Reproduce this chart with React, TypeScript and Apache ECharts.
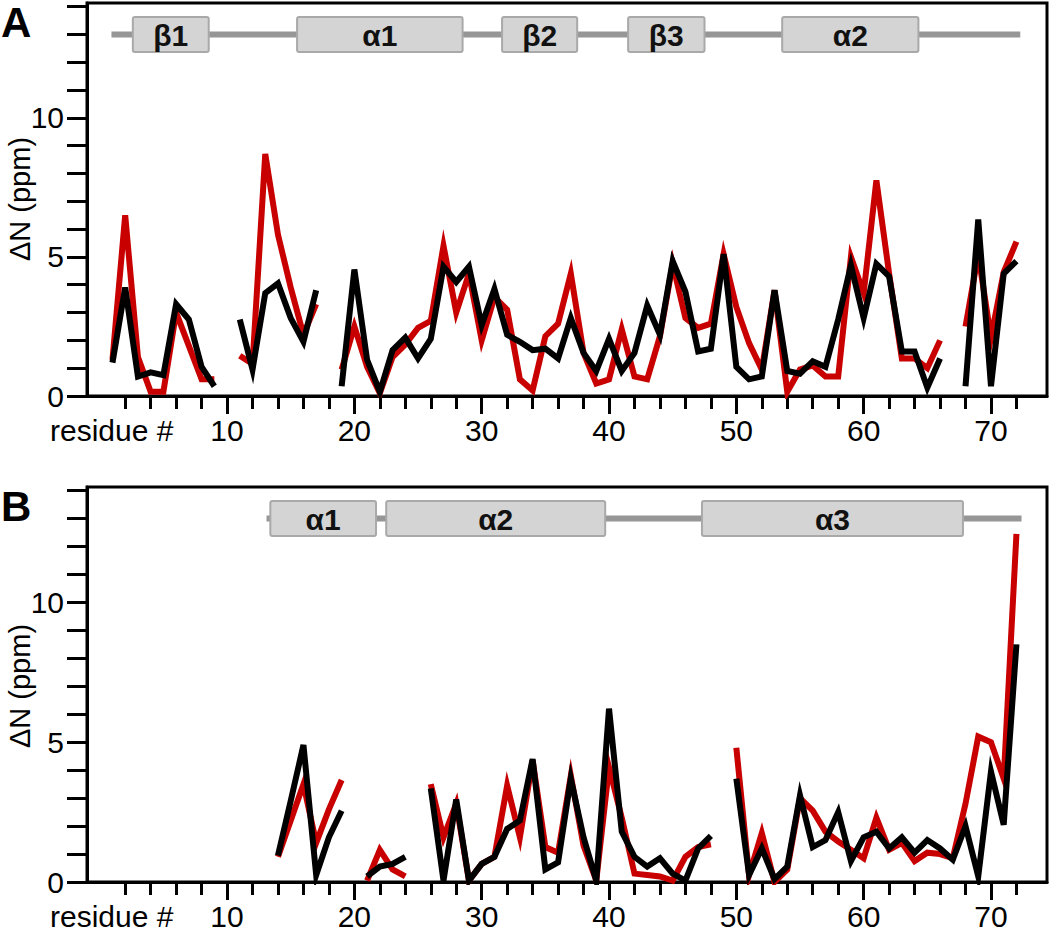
import React, { useEffect, useRef } from 'react';
import * as echarts from 'echarts';

// residue numbers 1..72
const residues = Array.from({ length: 72 }, (_, i) => i + 1);

// Panel A chemical shift perturbations (ppm), residue 1..72
const redA = [
  1.3, 6.5, 1.4, 0.15, 0.15, 3.0, 1.8, 0.6, 0.6, null,
  1.45, 1.15, 8.7, 5.8, 3.9, 2.2, 3.3, null, 0.95, 2.5,
  1.05, 0.1, 1.4, 1.85, 2.45, 2.7, 5.4, 3.0, 4.4, 2.0,
  3.55, 3.1, 0.6, 0.2, 2.15, 2.6, 4.4, 1.55, 0.45, 0.6,
  2.4, 0.7, 0.6, 2.15, 4.75, 2.8, 2.45, 2.6, 5.1, 3.2,
  1.9, 0.95, 3.8, 0.15, 0.95, 1.1, 0.7, 0.7, 5.0, 3.7,
  7.75, 4.4, 1.35, 1.35, 1.0, 2.0, null, 2.5, 5.1, 2.1,
  4.45, 5.55,
];
const blackA = [
  1.2, 3.9, 0.7, 0.85, 0.75, 3.3, 2.75, 1.05, 0.35, null,
  2.75, 0.95, 3.7, 4.05, 2.8, 1.95, 3.8, null, 0.35, 4.55,
  1.3, 0.15, 1.65, 2.1, 1.35, 2.05, 4.65, 4.1, 4.65, 2.55,
  3.85, 2.2, 1.95, 1.65, 1.7, 1.35, 2.8, 1.55, 0.9, 2.05,
  0.9, 1.55, 3.25, 2.2, 4.85, 3.75, 1.6, 1.7, 5.1, 1.05,
  0.6, 0.7, 3.8, 0.9, 0.8, 1.25, 1.05, 2.75, 4.7, 2.8,
  4.75, 4.3, 1.6, 1.6, 0.3, 1.35, null, 0.35, 6.35, 0.35,
  4.4, 4.85,
];

// Panel B
const redB = [
  null, null, null, null, null, null, null, null, null, null,
  null, null, null, 0.9, 2.2, 3.5, 1.4, 2.6, 3.65, null,
  0.05, 1.15, 0.45, 0.2, null, 3.5, 1.6, 2.8, 0.05, 0.65,
  0.9, 3.45, 1.6, 4.35, 1.25, 1.05, 3.8, 1.3, 0.05, 4.1,
  2.3, 0.3, 0.25, 0.2, 0.05, 0.9, 1.25, 1.35, null, 4.8,
  0.25, 1.75, 0.0, 0.45, 3.0, 2.55, 1.8, 1.45, 1.15, 0.85,
  2.3, 1.15, 1.4, 0.75, 1.05, 1.0, 0.85, 2.8, 5.2, 5.0,
  3.7, 12.45,
];
const blackB = [
  null, null, null, null, null, null, null, null, null, null,
  null, null, null, 0.95, 2.9, 4.9, 0.25, 1.6, 2.55, null,
  0.2, 0.55, 0.65, 0.9, null, 3.35, 0.05, 2.95, 0.05, 0.65,
  0.9, 1.9, 2.2, 4.4, 0.45, 0.7, 3.7, 1.6, 0.05, 6.2,
  1.8, 0.9, 0.55, 0.85, 0.3, 0.05, 1.2, 1.65, null, 3.7,
  0.25, 1.2, 0.1, 0.55, 3.1, 1.25, 1.5, 2.5, 0.75, 1.6,
  1.8, 1.2, 1.6, 1.05, 1.5, 1.2, 0.8, 2.0, 0.2, 3.95,
  2.05, 8.5,
];

// axis ticks / labels
const xMinorTicks = [2, 4, 6, 8, 12, 14, 16, 18, 22, 24, 26, 28, 32, 34, 36, 38, 42, 44, 46, 48, 52, 54, 56, 58, 62, 64, 66, 68, 72];
const xMajorTicks = [10, 20, 30, 40, 50, 60, 70];
const yTicks = [0, 1, 2, 3, 4, 5, 6, 7, 8, 9, 10, 11, 12, 13, 14];
const yLabels = [0, 5, 10];

// secondary structure (residue ranges)
const ssBackboneA = [0.92, 72.3];
const ssNamesA = ['β1', 'α1', 'β2', 'β3', 'α2'];
const ssStartA = [2.6, 15.5, 31.6, 41.5, 53.6];
const ssEndA = [8.56, 28.5, 37.5, 47.5, 64.3];

const ssBackboneB = [13.1, 72.4];
const ssNamesB = ['α1', 'α2', 'α3'];
const ssStartB = [13.4, 22.5, 47.3];
const ssEndB = [21.7, 39.7, 67.8];

const FONT = '"Liberation Sans", Arial, Helvetica, sans-serif';
const X_MIN = -1;
const X_MAX = 74.4;
const Y_MAX = 14.13;
const SS_Y = 13.0;

function ssSeries(gi: number, backbone: number[], names: string[], starts: number[], ends: number[]) {
  const data: number[][] = [[backbone[0], backbone[1]]];
  names.forEach((_, i) => data.push([starts[i], ends[i]]));
  return {
    type: 'custom',
    xAxisIndex: gi * 2,
    yAxisIndex: gi,
    silent: true,
    clip: false,
    encode: { x: [0, 1] },
    data,
    z: 5,
    renderItem: (params: any, api: any) => {
      const i = params.dataIndex;
      const p0 = api.coord([api.value(0), SS_Y]);
      const p1 = api.coord([api.value(1), SS_Y]);
      if (i === 0) {
        return {
          type: 'line',
          shape: { x1: p0[0], y1: p0[1], x2: p1[0], y2: p1[1] },
          style: { stroke: '#969696', lineWidth: 6 },
        };
      }
      return {
        type: 'group',
        children: [
          {
            type: 'rect',
            shape: { x: p0[0], y: p0[1] - 17.5, width: p1[0] - p0[0], height: 35, r: 2 },
            style: { fill: '#d4d4d4', stroke: '#a9a9a9', lineWidth: 2 },
          },
          {
            type: 'text',
            x: (p0[0] + p1[0]) / 2,
            y: p0[1] + 1,
            style: {
              text: names[i - 1],
              fill: '#111',
              font: `bold 30px ${FONT}`,
              align: 'center',
              verticalAlign: 'middle',
            },
          },
        ],
      };
    },
  };
}

function pairs(vals: (number | null)[]) {
  return residues.map((r, i) => [r, vals[i] === null ? null : vals[i]]);
}

export default function App() {
  const ref = useRef<HTMLDivElement>(null);
  useEffect(() => {
    document.body.style.margin = '0';
    const chart = echarts.init(ref.current!, null, { renderer: 'svg' });
    const grids = [
      { left: 87, top: 3, width: 960, height: 393 },
      { left: 87, top: 487, width: 960, height: 395 },
    ];
    const xAxes: any[] = [];
    const yAxes: any[] = [];
    grids.forEach((_, gi) => {
      xAxes.push({
        type: 'value', gridIndex: gi, min: X_MIN, max: X_MAX,
        axisLine: { show: true, onZero: false, lineStyle: { color: '#000', width: 3 } },
        axisTick: { show: true, length: 13, customValues: xMinorTicks, lineStyle: { color: '#000', width: 3 } },
        axisLabel: { show: false },
        splitLine: { show: false },
      });
      xAxes.push({
        type: 'value', gridIndex: gi, min: X_MIN, max: X_MAX, position: 'bottom',
        axisLine: { show: false },
        axisTick: { show: true, length: 18, customValues: xMajorTicks, lineStyle: { color: '#000', width: 3 } },
        axisLabel: { show: true, customValues: xMajorTicks, margin: 19.5, fontSize: 30, lineHeight: 30, fontFamily: FONT, color: '#000' },
        splitLine: { show: false },
      });
      yAxes.push({
        type: 'value', gridIndex: gi, min: 0, max: Y_MAX,
        axisLine: { show: true, onZero: false, lineStyle: { color: '#000', width: 3 } },
        axisTick: { show: true, length: 20, customValues: yTicks, lineStyle: { color: '#000', width: 3 } },
        axisLabel: { show: true, customValues: yLabels, margin: 23, fontSize: 30, fontFamily: FONT, color: '#000' },
        splitLine: { show: false },
      });
    });
    const lineSeries = (gi: number, vals: (number | null)[], color: string) => ({
      type: 'line',
      xAxisIndex: gi * 2,
      yAxisIndex: gi,
      data: pairs(vals),
      symbol: 'none',
      connectNulls: false,
      silent: true,
      lineStyle: { color, width: 6, join: 'miter', miterLimit: 6, cap: 'butt' },
    });
    const yTitle = (y: number) => ({
      type: 'text', x: 20, y, rotation: Math.PI / 2,
      style: { text: 'ΔN (ppm)', font: `29px ${FONT}`, fill: '#000', align: 'center', verticalAlign: 'middle' },
    });
    chart.setOption({
      animation: false,
      backgroundColor: '#fff',
      grid: grids.map((g) => ({ ...g, show: true, borderColor: '#000', borderWidth: 3, backgroundColor: 'transparent', outerBoundsMode: 'none', containLabel: false })),
      xAxis: xAxes,
      yAxis: yAxes,
      series: [
        lineSeries(0, redA, '#c80000'),
        lineSeries(0, blackA, '#000'),
        lineSeries(1, redB, '#c80000'),
        lineSeries(1, blackB, '#000'),
        ssSeries(0, ssBackboneA, ssNamesA, ssStartA, ssEndA),
        ssSeries(1, ssBackboneB, ssNamesB, ssStartB, ssEndB),
      ],
      graphic: [
        { type: 'text', x: 1, y: 22, style: { text: 'A', font: `bold 42px ${FONT}`, fill: '#000', align: 'left', verticalAlign: 'middle' } },
        { type: 'text', x: 1, y: 506, style: { text: 'B', font: `bold 42px ${FONT}`, fill: '#000', align: 'left', verticalAlign: 'middle' } },
        yTitle(199),
        yTitle(686),
        { type: 'text', x: 50, y: 430.5, style: { text: 'residue #', font: `30px ${FONT}`, fill: '#000', align: 'left', verticalAlign: 'middle' } },
        { type: 'text', x: 50, y: 916.5, style: { text: 'residue #', font: `30px ${FONT}`, fill: '#000', align: 'left', verticalAlign: 'middle' } },
      ],
    });
    return () => chart.dispose();
  }, []);
  return <div ref={ref} style={{ position: 'absolute', left: 0, top: 0, width: 1050, height: 932 }} />;
}
